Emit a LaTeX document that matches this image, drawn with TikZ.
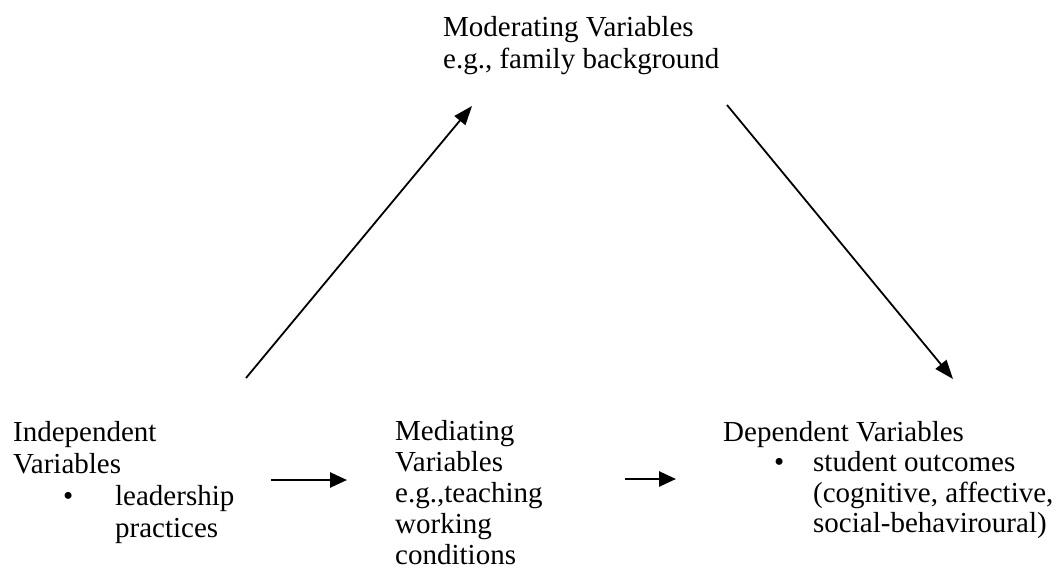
\documentclass[tikz,border=0pt]{standalone}
\usepackage{fontspec}
\setmainfont{Liberation Serif}
\usetikzlibrary{arrows.meta}
\tikzset{
  varbox/.style={align=left, inner sep=0pt, anchor=north west,
    font=\fontsize{29}{32}\selectfont},
  flow/.style={-{Triangle[length=17pt,width=15pt]}, line width=2.6pt},
  link/.style={-{Triangle[length=19pt,width=14pt]}, line width=1.8pt}
}
\newcommand{\bul}[2]{\hspace*{#1}\makebox[0pt]{\textbullet}\hspace{#2}}

\begin{document}
\begin{tikzpicture}[x=1pt, y=-1pt]
            \useasboundingbox (0,0) rectangle (1054,572);

            % Variable blocks
            \node[varbox] (indep) at (13,421) {Independent\\Variables\\\bul{55pt}{47pt}leadership\\\hspace*{102pt}practices};
            \node[varbox, font=\fontsize{29}{31}\selectfont] (med) at (395,420) {Mediating\\Variables\\e.g.,teaching\\working\\conditions};
            \node[varbox, font=\fontsize{29}{30.5}\selectfont] (dep) at (723,421) {Dependent Variables\\\bul{56pt}{34pt}student outcomes\\\hspace*{90pt}(cognitive, affective,\\\hspace*{90pt}social-behaviroural)};
            \node[varbox] (mod) at (443,16) {Moderating Variables\\e.g., family background};

            % Arrow end points
            \coordinate (i1) at (271,480);
            \coordinate (m1) at (347,480);
            \coordinate (m2) at (625,479);
            \coordinate (d1) at (676,479);
            \coordinate (i2) at (246,378);
            \coordinate (o1) at (472,106);
            \coordinate (o2) at (727,105);
            \coordinate (d2) at (953,379);

            % Arrows
            \draw[flow] (i1) -- (m1);
            \draw[flow] (m2) -- (d1);
            \draw[link] (i2) -- (o1);
            \draw[link] (o2) -- (d2);
\end{tikzpicture}
\end{document}
